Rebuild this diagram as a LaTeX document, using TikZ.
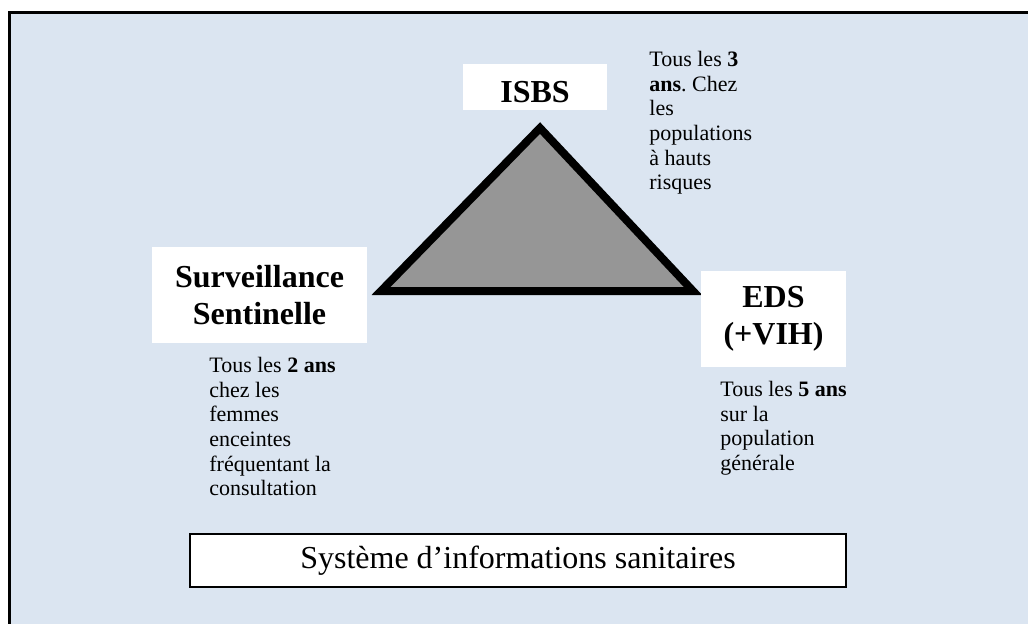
\documentclass[tikz,border=0pt]{standalone}
\usepackage{fontspec}
\setmainfont{Liberation Serif}
\frenchspacing
\definecolor{fondbleu}{RGB}{219,229,241}
\definecolor{grismoyen}{RGB}{150,150,150}
\tikzset{
  titre/.style={fill=white, inner sep=0pt, align=center,
    font=\fontsize{16}{18.5}\selectfont\bfseries},
  note/.style={anchor=north west, inner sep=0pt, align=left,
    font=\fontsize{11}{12.3}\selectfont},
}
\begin{document}
\begin{tikzpicture}[x=0.5pt, y=-0.5pt]
  \useasboundingbox (0,0) rectangle (1028,623);
  % fond et cadre
  \fill [fondbleu] (9,12) rectangle (1040,630);
  \draw [line width=1.5pt] (1040,12.5) -- (9.5,12.5) -- (9.5,630);
  % triangle
  \coordinate (sommet) at (540,128);
  \coordinate (droite) at (693,291);
  \coordinate (gauche) at (381,291);
  \draw [line width=4pt, fill=grismoyen] (sommet) -- (droite) -- (gauche) -- cycle;
  % les trois enquetes
  \node [titre, text height=15pt, text depth=0pt, minimum width=72pt, minimum height=23pt] (isbs) at (535,87) {ISBS};
  \node [titre, minimum width=107.5pt, minimum height=48pt] (sentinelle) at (259.5,295)
    {Surveillance\\Sentinelle};
  \node [titre, minimum width=72.5pt, minimum height=48pt] (eds) at (773.5,319) {EDS\\(+VIH)};
  % periodicites
  \node [note] (isbsnote) at (649,51)
    {Tous les \textbf{3}\\\textbf{ans}. Chez\\les\\populations\\à hauts\\risques};
  \node [note] (sentinellenote) at (209,357)
    {Tous les \textbf{2 ans}\\chez les\\femmes\\enceintes\\fréquentant la\\consultation};
  \node [note] (edsnote) at (720,381)
    {Tous les \textbf{5 ans}\\sur la\\population\\générale};
  %
  \node [draw, line width=1pt, fill=white, minimum width=328pt, minimum height=26.5pt,
    font=\fontsize{16}{18.5}\selectfont] (sis) at (518,560.5) {Système d’informations sanitaires};
\end{tikzpicture}
\end{document}
